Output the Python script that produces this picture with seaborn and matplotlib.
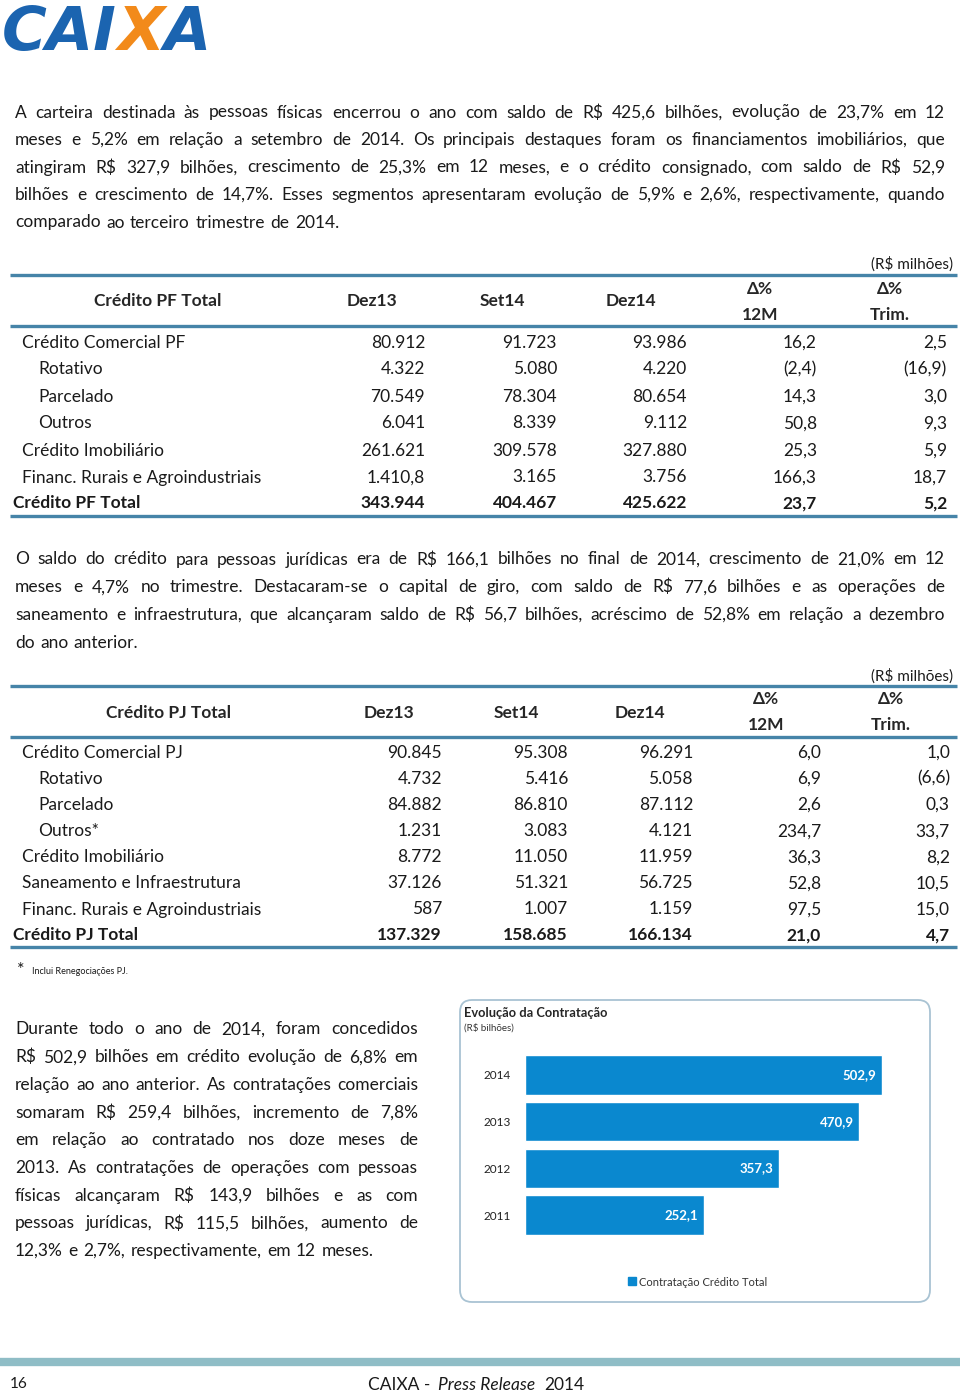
import matplotlib
matplotlib.use('Agg')
import matplotlib.pyplot as plt
from matplotlib.patches import FancyBboxPatch
import pandas as pd
import seaborn as sns

# ---- data ----
years = ['2014', '2013', '2012', '2011']
contratacao = [502.9, 470.9, 357.3, 252.1]

pf_labels = ['Crédito Comercial PF', 'Rotativo', 'Parcelado', 'Outros', 'Crédito Imobiliário',
             'Financ. Rurais e Agroindustriais', 'Crédito PF Total']
pf_indent = [0, 1, 1, 1, 0, 0, 2]
pf_dez13 = ['80.912', '4.322', '70.549', '6.041', '261.621', '1.410,8', '343.944']
pf_set14 = ['91.723', '5.080', '78.304', '8.339', '309.578', '3.165', '404.467']
pf_dez14 = ['93.986', '4.220', '80.654', '9.112', '327.880', '3.756', '425.622']
pf_d12m = ['16,2', '(2,4)', '14,3', '50,8', '25,3', '166,3', '23,7']
pf_dtri = ['2,5', '(16,9)', '3,0', '9,3', '5,9', '18,7', '5,2']

pj_labels = ['Crédito Comercial PJ', 'Rotativo', 'Parcelado', 'Outros*', 'Crédito Imobiliário',
             'Saneamento e Infraestrutura', 'Financ. Rurais e Agroindustriais', 'Crédito PJ Total']
pj_indent = [0, 1, 1, 1, 0, 0, 0, 2]
pj_dez13 = ['90.845', '4.732', '84.882', '1.231', '8.772', '37.126', '587', '137.329']
pj_set14 = ['95.308', '5.416', '86.810', '3.083', '11.050', '51.321', '1.007', '158.685']
pj_dez14 = ['96.291', '5.058', '87.112', '4.121', '11.959', '56.725', '1.159', '166.134']
pj_d12m = ['6,0', '6,9', '2,6', '234,7', '36,3', '52,8', '97,5', '21,0']
pj_dtri = ['1,0', '(6,6)', '0,3', '33,7', '8,2', '10,5', '15,0', '4,7']

par1 = ["A carteira destinada às pessoas físicas encerrou o ano com saldo de R$ 425,6 bilhões, evolução de 23,7% em 12",
        "meses e 5,2% em relação a setembro de 2014. Os principais destaques foram os financiamentos imobiliários, que",
        "atingiram R$ 327,9 bilhões, crescimento de 25,3% em 12 meses, e o crédito consignado, com saldo de R$ 52,9",
        "bilhões e crescimento de 14,7%. Esses segmentos apresentaram evolução de 5,9% e 2,6%, respectivamente, quando",
        "comparado ao terceiro trimestre de 2014."]
par2 = ["O saldo do crédito para pessoas jurídicas era de R$ 166,1 bilhões no final de 2014, crescimento de 21,0% em 12",
        "meses e 4,7% no trimestre. Destacaram-se o capital de giro, com saldo de R$ 77,6 bilhões e as operações de",
        "saneamento e infraestrutura, que alcançaram saldo de R$ 56,7 bilhões, acréscimo de 52,8% em relação a dezembro",
        "do ano anterior."]
par3 = ["Durante todo o ano de 2014, foram concedidos",
        "R$ 502,9 bilhões em crédito evolução de 6,8% em",
        "relação ao ano anterior. As contratações comerciais",
        "somaram R$ 259,4 bilhões, incremento de 7,8%",
        "em relação ao contratado nos doze meses de",
        "2013. As contratações de operações com pessoas",
        "físicas alcançaram R$ 143,9 bilhões e as com",
        "pessoas jurídicas, R$ 115,5 bilhões, aumento de",
        "12,3% e 2,7%, respectivamente, em 12 meses."]

sns.set_theme(style='white')
plt.rcParams['font.family'] = ['Lato', 'DejaVu Sans']

BLUE = '#0a88cf'
LINE = '#4684a8'
TXT = '#1a1a1a'

fig = plt.figure(figsize=(9.6, 13.92), dpi=100)
ax = fig.add_axes([0, 0, 1, 1])
ax.set_xlim(0, 960)
ax.set_ylim(1392, 0)
ax.axis('off')
r = fig.canvas.get_renderer()


def width_of(s, size, **kw):
    t = ax.text(0, 0, s, fontsize=size, **kw)
    w = t.get_window_extent(r).width
    t.remove()
    return w


def justify(line, y, x0, x1, size=12.5, last=False):
    words = line.split(' ')
    arts = [ax.text(0, y, w, fontsize=size, va='center_baseline', color=TXT) for w in words]
    widths = [a.get_window_extent(r).width for a in arts]
    if last or len(words) == 1:
        gap = width_of('a a', size) - width_of('aa', size) + 1
    else:
        gap = (x1 - x0 - sum(widths)) / (len(words) - 1)
    x = x0
    for a, w in zip(arts, widths):
        a.set_x(x)
        x += w + gap


def paragraph(lines, y0, step, x0, x1):
    for i, ln in enumerate(lines):
        justify(ln, y0 + i * step, x0, x1, last=(i == len(lines) - 1))


# logo
x = 2
for s, c in [('CAI', '#1b64b0'), ('X', '#f28a1a'), ('A', '#1b64b0')]:
    t = ax.text(x, 50, s, fontsize=44, fontweight='bold', fontstyle='italic',
                family='DejaVu Sans', color=c, va='baseline')
    x += t.get_window_extent(r).width

paragraph(par1, 111, 27.5, 15, 945)
paragraph(par2, 558, 27.7, 15, 945)
paragraph(par3, 1028, 27.7, 15, 418)


def table(labels, indent, cols, rights, centers, head, y_unit, y_line, y_head, y_rows):
    ax.text(953, y_unit, '(R$ milhões)', fontsize=11, ha='right', va='center_baseline', color=TXT)
    for yl in y_line:
        ax.plot([10, 957], [yl, yl], color=LINE, lw=2.4, solid_capstyle='butt')
    ax.text(centers[0], y_head, head, fontsize=12.5, fontweight='bold', ha='center', va='center_baseline')
    for cx, h in zip(centers[1:4], ['Dez13', 'Set14', 'Dez14']):
        ax.text(cx, y_head, h, fontsize=12.5, fontweight='bold', ha='center', va='center_baseline')
    for cx, h in zip(centers[4:], ['12M', 'Trim.']):
        ax.text(cx, y_head - 13, 'Δ%', fontsize=12.5, fontweight='bold', ha='center', va='center_baseline')
        ax.text(cx, y_head + 13, h, fontsize=12.5, fontweight='bold', ha='center', va='center_baseline')
    for i, lab in enumerate(labels):
        bold = indent[i] == 2
        lx = {0: 22, 1: 38, 2: 13}[indent[i]]
        fw = 'bold' if bold else 'normal'
        ax.text(lx, y_rows[i], lab, fontsize=12.5, fontweight=fw, va='center_baseline', color=TXT)
        for col, rx in zip(cols, rights):
            ax.text(rx, y_rows[i], col[i], fontsize=12.5, fontweight=fw, ha='right',
                    va='center_baseline', color=TXT)


table(pf_labels, pf_indent, [pf_dez13, pf_set14, pf_dez14, pf_d12m, pf_dtri],
      [425, 557, 687, 817, 947], [158, 372, 502, 631, 760, 890], 'Crédito PF Total',
      263, [275, 326, 516], 300, [341, 368, 395, 422, 449, 476, 502])
table(pj_labels, pj_indent, [pj_dez13, pj_set14, pj_dez14, pj_d12m, pj_dtri],
      [442, 568, 693, 821, 950], [168, 389, 516, 640, 766, 891], 'Crédito PJ Total',
      675, [686, 737, 947], 711, [751, 777, 803, 830, 856, 882, 908, 934])

ax.text(17, 969, '*', fontsize=13, va='center_baseline', color=TXT)
ax.text(32, 970, 'Inclui Renegociações PJ.', fontsize=6.5, va='center_baseline', color=TXT)

# chart box
box = FancyBboxPatch((460, 1000), 470, 302, boxstyle='round,pad=0,rounding_size=12',
                     fc='white', ec='#a9c3d3', lw=1.3)
ax.add_patch(box)
ax.text(464, 1012, 'Evolução da Contratação', fontsize=9.3, fontweight='bold', va='center_baseline')
ax.text(464, 1027, '(R$ bilhões)', fontsize=7, va='center_baseline', color='#333333')
ax.add_patch(plt.Rectangle((628, 1277), 8, 8, color=BLUE))
ax.text(639, 1281, 'Contratação Crédito Total', fontsize=8, va='center_baseline', color='#333333')

# footer
ax.plot([0, 960], [1362, 1362], color='#8fbdc6', lw=6, solid_capstyle='butt')
ax.text(10, 1383, '16', fontsize=11, va='center_baseline', color=TXT)
ax.text(430, 1383, 'CAIXA -', fontsize=12.5, ha='right', va='center_baseline', color=TXT)
ax.text(438, 1383, 'Press Release', fontsize=12.5, fontstyle='italic', va='center_baseline', color=TXT)
ax.text(544, 1383, '2014', fontsize=12.5, va='center_baseline', color=TXT)

# bar chart
df = pd.DataFrame({'ano': years, 'valor': contratacao})
bx = fig.add_axes([525 / 960, 1 - 1250 / 1392, 405 / 960, 210 / 1392])
sns.barplot(data=df, x='valor', y='ano', order=years, color=BLUE, saturation=1, width=0.85, ax=bx)
bx.set_xlim(0, 405 / 0.71)
bx.set_ylim(3.745, -0.745)
bx.set_facecolor('none')
for s in bx.spines.values():
    s.set_visible(False)
bx.set_xticks([])
bx.set_xlabel('')
bx.set_ylabel('')
bx.tick_params(axis='y', length=0, pad=10, labelsize=8.5, labelcolor='#222222')
for i, v in enumerate(contratacao):
    bx.text(v - 8, i, f'{v:.1f}'.replace('.', ','), color='white', fontweight='bold',
            fontsize=9.5, ha='right', va='center')

fig.savefig('out.png', dpi=100)
